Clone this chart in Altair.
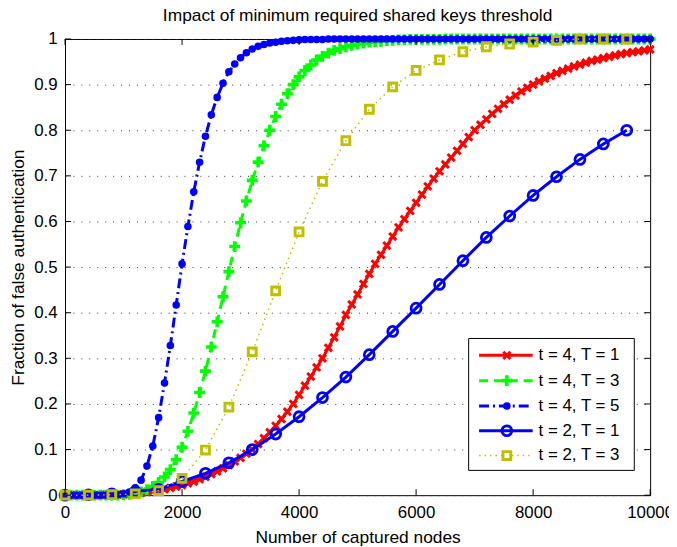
import altair as alt
import pandas as pd

# ---------------- data ----------------
x_dense = list(range(0, 10001, 100))      # markers every 100 nodes
x_sparse = list(range(0, 9601, 400))     # markers every 400 nodes

red_t4_T1 = [
    0, 0, 0, 0, 0, 0, 0, 0.001, 0.001, 0.002,
    0.002, 0.003, 0.004, 0.005, 0.007, 0.009, 0.011, 0.013, 0.016, 0.019,
    0.022, 0.026, 0.030, 0.035, 0.040, 0.046, 0.052, 0.059, 0.066, 0.074,
    0.082, 0.091, 0.100, 0.112, 0.125, 0.138, 0.152, 0.167, 0.183, 0.200,
    0.220, 0.240, 0.260, 0.280, 0.300, 0.323, 0.346, 0.370, 0.395, 0.418,
    0.440, 0.463, 0.485, 0.507, 0.527, 0.547, 0.567, 0.587, 0.605, 0.623,
    0.641, 0.659, 0.677, 0.694, 0.710, 0.725, 0.740, 0.755, 0.770, 0.785,
    0.800, 0.812, 0.824, 0.836, 0.847, 0.857, 0.867, 0.876, 0.885, 0.893,
    0.900, 0.907, 0.913, 0.919, 0.925, 0.930, 0.935, 0.940, 0.944, 0.948,
    0.952, 0.955, 0.958, 0.961, 0.964, 0.967, 0.969, 0.971, 0.973, 0.975,
    0.977,
]

green_t4_T3 = [
    0, 0, 0, 0, 0, 0, 0, 0, 0, 0,
    0.001, 0.002, 0.004, 0.007, 0.012, 0.019, 0.028, 0.040, 0.056, 0.078,
    0.105, 0.140, 0.180, 0.225, 0.272, 0.325, 0.380, 0.435, 0.490, 0.545,
    0.597, 0.645, 0.690, 0.730, 0.766, 0.800, 0.830, 0.857, 0.880, 0.900,
    0.917, 0.931, 0.943, 0.954, 0.962, 0.969, 0.975, 0.979, 0.983, 0.986,
    0.989, 0.991, 0.993, 0.994, 0.995, 0.996, 0.997, 0.998, 0.998, 0.999,
    0.999, 0.999, 0.999, 0.999, 0.999, 1.0, 1.0, 1.0, 1.0, 1.0,
    1.0, 1.0, 1.0, 1.0, 1.0, 1.0, 1.0, 1.0, 1.0, 1.0,
    1.0, 1.0, 1.0, 1.0, 1.0, 1.0, 1.0, 1.0, 1.0, 1.0,
    1.0, 1.0, 1.0, 1.0, 1.0, 1.0, 1.0, 1.0, 1.0, 1.0,
    1.0,
]

blue_t4_T5 = [
    0, 0, 0, 0, 0, 0, 0, 0, 0, 0.001,
    0.003, 0.007, 0.016, 0.033, 0.064, 0.108, 0.170, 0.246, 0.328, 0.417,
    0.507, 0.589, 0.665, 0.730, 0.787, 0.834, 0.872, 0.903, 0.928, 0.945,
    0.959, 0.970, 0.978, 0.984, 0.988, 0.991, 0.993, 0.995, 0.996, 0.997,
    0.998, 0.999, 0.999, 0.999, 0.999, 1.0, 1.0, 1.0, 1.0, 1.0,
    1.0, 1.0, 1.0, 1.0, 1.0, 1.0, 1.0, 1.0, 1.0, 1.0,
    1.0, 1.0, 1.0, 1.0, 1.0, 1.0, 1.0, 1.0, 1.0, 1.0,
    1.0, 1.0, 1.0, 1.0, 1.0, 1.0, 1.0, 1.0, 1.0, 1.0,
    1.0, 1.0, 1.0, 1.0, 1.0, 1.0, 1.0, 1.0, 1.0, 1.0,
    1.0, 1.0, 1.0, 1.0, 1.0, 1.0, 1.0, 1.0, 1.0, 1.0,
    1.0,
]

blue_t2_T1 = [
    0, 0.001, 0.003, 0.008, 0.013, 0.030, 0.048, 0.071, 0.100, 0.134,
    0.172, 0.214, 0.259, 0.308, 0.359, 0.410, 0.462, 0.514, 0.565, 0.612,
    0.657, 0.698, 0.736, 0.770, 0.800,
]

yellow_t2_T3 = [
    0, 0, 0.001, 0.003, 0.010, 0.037, 0.099, 0.193, 0.314, 0.448,
    0.577, 0.688, 0.777, 0.846, 0.895, 0.931, 0.954, 0.972, 0.983, 0.989,
    0.993, 0.997, 1.0, 1.0, 1.0,
]

labels = ["t = 4, T = 1", "t = 4, T = 3", "t = 4, T = 5", "t = 2, T = 1", "t = 2, T = 3"]
x_ticks = [0, 2000, 4000, 6000, 8000, 10000]
y_ticks = [0, 0.1, 0.2, 0.3, 0.4, 0.5, 0.6, 0.7, 0.8, 0.9, 1]

# ---------------- styles ----------------
FONT = "Liberation Sans"
FS = 17
TFS = 17.5
W, H = 590, 460
X_PATH = "M-1,-1L1,1M-1,1L1,-1"
PLUS_PATH = "M-1,0L1,0M0,-1L0,1"

styles = [
    dict(color="#FF0000", lw=3, dash=None, shape=X_PATH, size=52, filled=False, sw=3),
    dict(color="#00FF00", lw=3, dash=[9, 6], shape=PLUS_PATH, size=120, filled=False, sw=3.6),
    dict(color="#0000FF", lw=3, dash=[10, 4, 2, 4], shape="circle", size=58, filled=True, sw=0),
    dict(color="#0000FF", lw=3, dash=None, shape="circle", size=100, filled=False, sw=2.8),
    dict(color="#BFBF00", lw=1.5, dash=[1.5, 4], shape="square", size=62, filled=False, sw=3),
]
series_x = [x_dense, x_dense, x_dense, x_sparse, x_sparse]
series_y = [red_t4_T1, green_t4_T3, blue_t4_T5, blue_t2_T1, yellow_t2_T3]

x_enc = alt.X(
    "x:Q",
    scale=alt.Scale(domain=[0, 10000], nice=False, zero=False),
    axis=alt.Axis(values=x_ticks, format="d", grid=False, ticks=False, domain=False,
                  labelFontSize=FS, labelPadding=10, labelColor="black", labelFont=FONT,
                  title="Number of captured nodes", titleFontSize=TFS, titleFont=FONT,
                  titleFontWeight="normal", titleColor="black", titlePadding=8,
                  labelFlush=False),
)
y_enc = alt.Y(
    "y:Q",
    scale=alt.Scale(domain=[0, 1], nice=False, zero=False),
    axis=alt.Axis(values=y_ticks, format="~g", grid=True, gridDash=[1, 7], gridColor="#333",
                  gridWidth=1, ticks=False, domain=False,
                  labelFontSize=FS, labelPadding=8, labelColor="black", labelFont=FONT,
                  title="Fraction of false authentication", titleFontSize=TFS, titleFont=FONT,
                  titleFontWeight="normal", titleColor="black", titlePadding=6,
                  labelFlush=False),
)

layers = []
for xs, ys, st in zip(series_x, series_y, styles):
    df = pd.DataFrame({"x": xs, "y": ys})
    line_kw = dict(color=st["color"], strokeWidth=st["lw"])
    if st["dash"]:
        line_kw["strokeDash"] = st["dash"]
    layers.append(alt.Chart(df).mark_line(**line_kw).encode(x=x_enc, y=y_enc))
    if st["filled"]:
        pt = alt.Chart(df).mark_point(shape=st["shape"], size=st["size"], filled=True,
                                      color=st["color"], opacity=1)
    else:
        pt = alt.Chart(df).mark_point(shape=st["shape"], size=st["size"], filled=False,
                                      color=st["color"], strokeWidth=st["sw"], opacity=1)
    layers.append(pt.encode(x=x_enc, y=y_enc))

# inward tick marks on all four sides
xt = pd.DataFrame({"x": x_ticks})
yt = pd.DataFrame({"y": y_ticks})
layers.append(alt.Chart(xt).mark_rule(color="black", strokeWidth=1).encode(
    x=x_enc, y=alt.value(H), y2=alt.value(H - 6)))
layers.append(alt.Chart(xt).mark_rule(color="black", strokeWidth=1).encode(
    x=x_enc, y=alt.value(0), y2=alt.value(6)))
layers.append(alt.Chart(yt).mark_rule(color="black", strokeWidth=1).encode(
    y=y_enc, x=alt.value(0), x2=alt.value(6)))
layers.append(alt.Chart(yt).mark_rule(color="black", strokeWidth=1).encode(
    y=y_enc, x=alt.value(W), x2=alt.value(W - 6)))

# legend box (manual, MATLAB style)
dummy = pd.DataFrame({"k": [0]})
LX0, LX1, LY0, LY1 = 407, 574, 302, 435
row_y = [319, 344.5, 370, 395, 420]
layers.append(alt.Chart(dummy).mark_rect(fill="white", stroke="black", strokeWidth=1).encode(
    x=alt.value(LX0), x2=alt.value(LX1), y=alt.value(LY0), y2=alt.value(LY1)))
for lab, st, ry in zip(labels, styles, row_y):
    rule_kw = dict(color=st["color"], strokeWidth=st["lw"])
    if st["dash"]:
        rule_kw["strokeDash"] = st["dash"]
    layers.append(alt.Chart(dummy).mark_rule(**rule_kw).encode(
        x=alt.value(417.5), x2=alt.value(471.5), y=alt.value(ry)))
    if st["filled"]:
        pk = dict(shape=st["shape"], size=st["size"], filled=True, color=st["color"], opacity=1)
    else:
        pk = dict(shape=st["shape"], size=st["size"], filled=False, color=st["color"],
                  strokeWidth=st["sw"], opacity=1)
    if st["shape"] == "square":
        pk["fill"] = "white"
    layers.append(alt.Chart(dummy).mark_point(**pk).encode(x=alt.value(445.5), y=alt.value(ry)))
    layers.append(alt.Chart(dummy).mark_text(align="left", baseline="middle", font=FONT,
                                             fontSize=FS, color="black").encode(
        x=alt.value(477.5), y=alt.value(ry), text=alt.value(lab)))

chart = alt.layer(*layers).properties(
    width=W, height=H,
    title=alt.Title("Impact of minimum required shared keys threshold", font=FONT,
                    fontSize=TFS, fontWeight="normal", color="black", offset=2),
    padding={"left": 57.5, "top": 29, "right": 19, "bottom": 50},
    autosize=alt.AutoSizeParams(type="none"),
    background="white",
).configure_view(stroke="black", strokeWidth=1)

chart.save("out.html", embed_options={"renderer": "svg", "actions": False})
